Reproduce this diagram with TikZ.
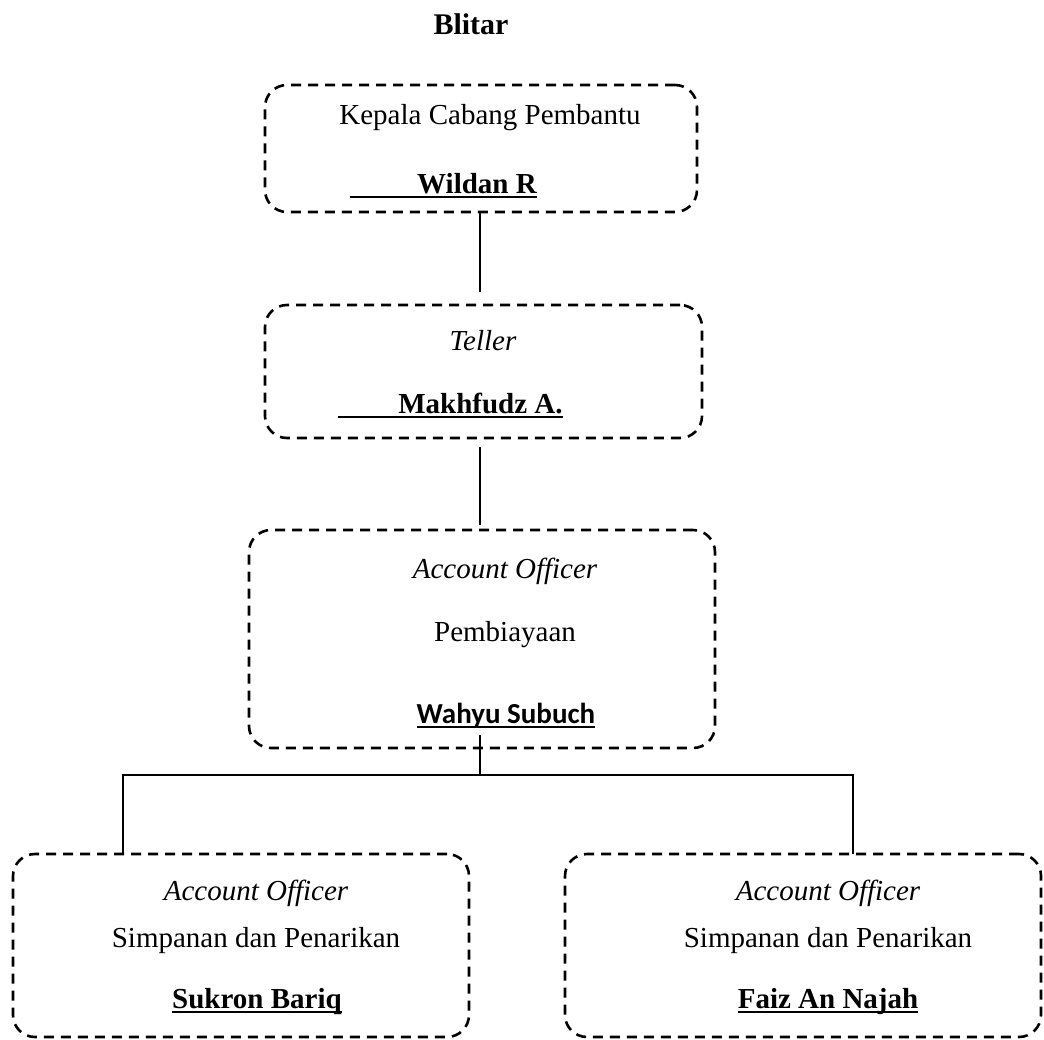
\documentclass[tikz,border=0pt]{standalone}
\usepackage{fontspec}
\setmainfont{Liberation Serif}
\newfontfamily\calibrifont{Carlito}
\begin{document}
\begin{tikzpicture}[x=1pt,y=-1pt,
  dbox/.style={draw, dashed, dash pattern=on 10pt off 7pt, line width=2.6pt, rounded corners=22pt, inner sep=0pt, outer sep=0pt},
  conn/.style={line width=1.8pt},
  uline/.style={line width=2.2pt},
  txt/.style={inner sep=0pt, anchor=base, font=\fontsize{29}{34}\selectfont},
  btxt/.style={txt, font=\fontsize{29}{34}\selectfont\bfseries},
  itxt/.style={txt, font=\fontsize{29}{34}\selectfont\itshape},
  ctxt/.style={txt, font=\fontsize{29}{34}\selectfont\calibrifont\bfseries}]
\useasboundingbox (0,0) rectangle (1044,1039);

\node[btxt, font=\fontsize{30}{36}\selectfont\bfseries] (title) at (471,34) {Blitar};

% boxes
\node[dbox, minimum width=432pt, minimum height=127pt] (b1) at (481,148.5) {};
\node[dbox, minimum width=437pt, minimum height=133pt] (b2) at (483.5,371.5) {};
\node[dbox, minimum width=466pt, minimum height=218pt] (b3) at (482,639) {};
\node[dbox, minimum width=456pt, minimum height=183pt] (b4) at (241,945.5) {};
\node[dbox, minimum width=476pt, minimum height=183pt] (b5) at (803,945.5) {};

% box 1 text
\node[txt] (t1a) at (490,124) {Kepala Cabang Pembantu};
\node[btxt] (t1b) at (477,193) {Wildan R};
\draw[uline] ([yshift=-4pt]t1b.base east) -- ++(-187,0);

% box 2 text
\node[itxt] (t2a) at (483,350) {Teller};
\node[btxt] (t2b) at (480.5,413) {Makhfudz A.};
\draw[uline] ([yshift=-4pt]t2b.base east) -- ++(-225,0);

% box 3 text
\node[itxt] (t3a) at (505,578) {Account Officer};
\node[txt] (t3b) at (505,641) {Pembiayaan};
\node[ctxt] (t3c) at (506,723) {Wahyu Subuch};
\draw[uline] ([yshift=-4pt]t3c.base west) -- ([yshift=-4pt]t3c.base east);

% box 4 text
\node[itxt] (t4a) at (256,900) {Account Officer};
\node[txt] (t4b) at (256,947) {Simpanan dan Penarikan};
\node[btxt] (t4c) at (257,1008) {Sukron Bariq};
\draw[uline] ([yshift=-4pt]t4c.base west) -- ([yshift=-4pt]t4c.base east);

% box 5 text
\node[itxt] (t5a) at (828,900) {Account Officer};
\node[txt] (t5b) at (828,947) {Simpanan dan Penarikan};
\node[btxt] (t5c) at (828,1008) {Faiz An Najah};
\draw[uline] ([yshift=-4pt]t5c.base west) -- ([yshift=-4pt]t5c.base east);

% connectors
\coordinate (k1) at (480,292);
\draw[conn] (b1.south -| k1) -- (k1);
\coordinate (k2a) at (480,447);
\coordinate (k2b) at (480,525);
\draw[conn] (k2a) -- (k2b);
\coordinate (k3) at (480,735);
\coordinate (h) at (480,775);
\draw[conn] (k3) -- (h);
\coordinate (hl) at (123,775);
\coordinate (hr) at (853,775);
\draw[conn] (b4.north -| hl) -- (hl) -- (hr) -- (b5.north -| hr);
\end{tikzpicture}
\end{document}
